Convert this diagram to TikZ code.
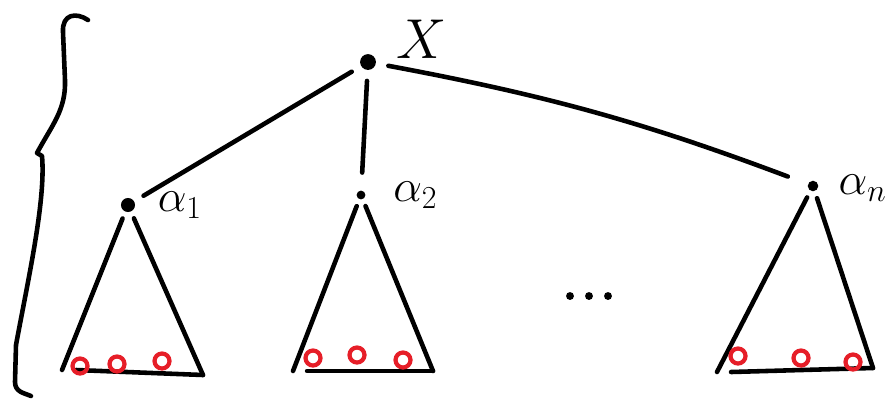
\documentclass[tikz,border=0pt]{standalone}
\usepackage{fix-cm}
\usetikzlibrary{positioning}
\definecolor{leafred}{RGB}{230,30,40}
\begin{document}
\begin{tikzpicture}[
  x=0.02cm, y=-0.02cm,
  line width=2.6pt, line cap=round, line join=round,
  dot/.style={circle, fill=black, inner sep=0pt, minimum size=#1},
  leaf/.style={circle, draw=leafred, line width=2.4pt, inner sep=0pt, minimum size=0.3cm},
  lab/.style={font=\fontsize{26}{30}\selectfont},
  edge/.style={shorten <=5pt, shorten >=5pt}
]
\useasboundingbox (0,0) rectangle (896,400);

% Root and its children
\node[dot=9pt] (root) at (368,62) {};
\node[dot=8pt] (a1) at (128,205) {};
\node[dot=5pt] (a2) at (361,195) {};
\node[dot=6pt] (an) at (813,186) {};

% Labels
\node[font=\fontsize{32}{36}\selectfont, right=0.2cm of root, yshift=0.45cm] (xlab) {$X$};
\node[lab, right=0.25cm of a1] (a1lab) {$\alpha_1$};
\node[lab, right=0.35cm of a2] (a2lab) {$\alpha_2$};
\node[lab, right=0.2cm of an, yshift=-0.05cm] (anlab) {$\alpha_n$};

% Edges from the root
\draw[edge] (root) -- (a1);
\draw[edge, shorten >=9pt] (root) -- (a2);
\draw[edge, shorten <=6pt, shorten >=11pt] (root) to[bend left=5] (an);

% Triangles below each child
\coordinate (l1) at (62,370);  \coordinate (r1) at (203,375);
\coordinate (l2) at (293,371); \coordinate (r2) at (433,371);
\coordinate (l3) at (717,372); \coordinate (r3) at (873,368);
\foreach \t/\k in {a1/1, a2/2, an/3} {
  \draw[shorten <=3pt] (\t) -- (l\k);
  \draw[shorten <=3pt] (\t) -- (r\k);
  \draw ([xshift=8pt]l\k) -- (r\k);
}

% Leaves on the bases
\foreach \x/\y [count=\i] in {80/366, 117/364, 162/361, 313/358, 357/355, 403/360, 738/356, 801/358, 853/362}
  \node[leaf] (leaf\i) at (\x,\y) {};

% Dots between the subtrees
\foreach \x [count=\i] in {570,589,608}
  \node[dot=4.5pt] (dots\i) at (\x,296) {};

% Brace on the left
\draw (88,20) .. controls (76,12) and (62,14) .. (63,32)
  -- (65,80) .. controls (66,110) and (52,125) .. (37,153)
  -- (42,156) .. controls (46,200) and (28,280) .. (16,345)
  -- (15,382) .. controls (15,392) and (24,393) .. (31,396);

\end{tikzpicture}
\end{document}
